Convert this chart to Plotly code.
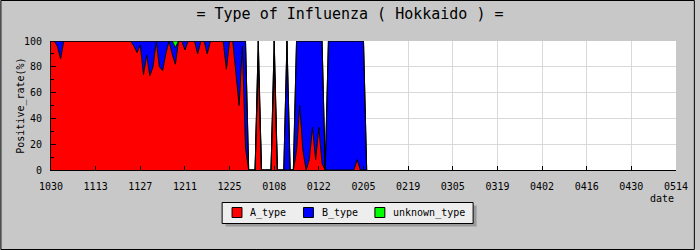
import pandas as pd
import plotly.graph_objects as go

# ---- data (daily positive rates, % ; day 0 = Oct 30) ----
start_date = "2018-10-30"
a_type = [100, 100, 96, 86] + [100] * 22 + [
    96, 91, 97, 74, 89, 73, 80, 100, 80, 77, 90, 100, 90, 82, 100, 100,
    93, 100, 100, 100, 90, 100, 100, 90, 100, 100, 100, 100, 100, 78,
    100, 100, 76, 50, 96, 17, 0, 0, 0, 84, 0, 0, 0, 0, 84, 0, 0, 0,
    0, 0, 0, 15, 50, 15, 0, 8, 33, 8, 33, 5, 0, 0, 0, 0, 0, 0, 0, 0,
    0, 0, 8, 0, 0, 0]
b_type = [0, 0, 4, 14] + [0] * 22 + [
    4, 9, 3, 26, 11, 27, 20, 0, 20, 23, 10, 0, 10, 13, 0, 0,
    7, 0, 0, 0, 10, 0, 0, 10, 0, 0, 0, 0, 0, 22,
    0, 0, 24, 50, 4, 83, 0, 0, 0, 16, 0, 0, 0, 0, 16, 0, 0, 0,
    100, 0, 0, 85, 50, 85, 100, 92, 67, 92, 67, 95, 0, 100, 100, 100, 100, 100, 100, 100,
    100, 100, 92, 100, 100, 0]
unknown_type = [0] * 39 + [5] + [0] * 59

series_names = ["A_type", "B_type", "unknown_type"]
series_colors = ["#FF0000", "#0000FF", "#00FF00"]
tick_labels = ["1030", "1113", "1127", "1211", "1225", "0108", "0122", "0205",
               "0219", "0305", "0319", "0402", "0416", "0430", "0514"]

title_text = "= Type of Influenza ( Hokkaido ) ="
y_title = "Positive_rate(%)"
x_title = "date"

dates = pd.date_range(start_date, periods=len(a_type), freq="D")
tick_dates = pd.date_range(start_date, periods=len(tick_labels), freq="14D")

MONO = "DejaVu Sans Mono"

fig = go.Figure()
for name, vals, col in zip(series_names, [a_type, b_type, unknown_type], series_colors):
    fig.add_trace(go.Scatter(
        x=dates, y=vals, name=name, mode="lines", stackgroup="one",
        fillcolor=col, line=dict(color="black", width=1), showlegend=False,
    ))

# layout geometry (pixels)
W, H = 700, 250
L, R, T, B = 51, 19, 41, 80
PW, PH = W - L - R, H - T - B


def px(x):
    return (x - L) / PW


def py(y):
    return (H - B - y) / PH


fig.update_layout(
    width=W, height=H,
    margin=dict(l=L, r=R, t=T, b=B, pad=0),
    paper_bgcolor="#C8C8C8", plot_bgcolor="#FFFFFF",
    font=dict(family=MONO, size=10, color="black"),
    title=dict(text=title_text, x=0.5, xref="container", xanchor="center",
               y=1 - 13.5 / H, yref="container", yanchor="middle",
               font=dict(family=MONO, size=15, color="black")),
    xaxis=dict(
        type="date", range=[tick_dates[0], tick_dates[-1]],
        tickvals=tick_dates, ticktext=tick_labels,
        ticks="inside", ticklen=4, tickcolor="black",
        showline=True, linecolor="black", linewidth=1, mirror=False,
        showgrid=True, gridcolor="#D9D9D9", gridwidth=1, zeroline=False,
        tickfont=dict(family=MONO, size=10, color="black"),
        ticklabelstandoff=7,
    ),
    yaxis=dict(
        range=[0, 100], tickvals=[0, 20, 40, 60, 80, 100],
        ticks="inside", ticklen=5, tickcolor="black",
        minor=dict(tickvals=[10, 30, 50, 70, 90], ticks="inside", ticklen=3,
                   tickcolor="black", showgrid=False),
        showline=True, linecolor="black", linewidth=1,
        showgrid=True, gridcolor="#D9D9D9", gridwidth=1, zeroline=False,
        tickfont=dict(family=MONO, size=10, color="black"),
        ticklabelstandoff=6,
    ),
    showlegend=False,
)

annotations = [
    dict(text=y_title, x=px(20), y=0.5, xref="paper", yref="paper",
         textangle=-90, showarrow=False, xanchor="center", yanchor="middle",
         font=dict(family=MONO, size=10, color="black")),
    dict(text=x_title, x=1, y=py(198), xref="paper", yref="paper",
         showarrow=False, xanchor="right", yanchor="middle",
         font=dict(family=MONO, size=10, color="black")),
]

shapes = [
    # outer border
    dict(type="rect", xref="paper", yref="paper", x0=px(0.5), x1=px(699.5),
         y0=py(249.5), y1=py(0.5), line=dict(color="#000000", width=1), layer="above"),
    # legend shadow
    dict(type="rect", xref="paper", yref="paper", x0=px(227), x1=px(480),
         y0=py(226.5), y1=py(205.5), line=dict(width=0), fillcolor="#9A9A9A", layer="above"),
    # legend box
    dict(type="rect", xref="paper", yref="paper", x0=px(223.5), x1=px(476.5),
         y0=py(223.5), y1=py(202.5), line=dict(color="black", width=1),
         fillcolor="#EEEEEE", layer="above"),
]

sw_x = [233.5, 305.5, 377.5]
txt_x = [250, 322, 394]
for name, col, sx, tx in zip(series_names, series_colors, sw_x, txt_x):
    shapes.append(dict(type="rect", xref="paper", yref="paper", x0=px(sx), x1=px(sx + 10),
                       y0=py(217.5), y1=py(207.5), line=dict(color="black", width=1),
                       fillcolor=col, layer="above"))
    annotations.append(dict(text=name, x=px(tx), y=py(212.5), xref="paper", yref="paper",
                            showarrow=False, xanchor="left", yanchor="middle",
                            font=dict(family=MONO, size=10, color="black")))

fig.update_layout(shapes=shapes, annotations=annotations)
fig.write_html("out.html")
